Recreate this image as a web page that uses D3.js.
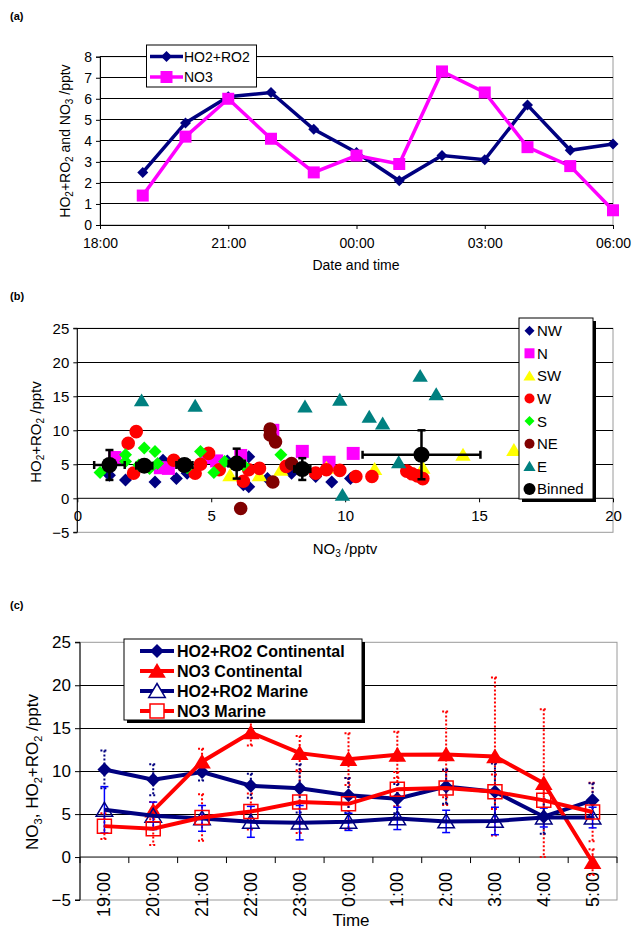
<!DOCTYPE html>
<html><head><meta charset="utf-8">
<script src="https://cdn.jsdelivr.net/npm/d3@7"></script>
<style>
html,body{margin:0;padding:0;background:#fff;}
svg{display:block;font-family:"Liberation Sans",Arial,sans-serif;}
</style></head>
<body>
<svg id="chart" width="632" height="929"></svg>
<script>
// ---------- Panel (a) data ----------
const aTimes = ["19:00","20:00","21:00","22:00","23:00","00:00","01:00","02:00","03:00","04:00","05:00","06:00"];
const aHO2RO2 = [2.5,4.85,6.1,6.3,4.55,3.45,2.1,3.3,3.1,5.7,3.55,3.85];
const aNO3 = [1.4,4.2,6.0,4.1,2.5,3.3,2.9,7.3,6.3,3.7,2.8,0.7];
const aTickHours = [18,21,24,27,30];
const aYTicks = [0,1,2,3,4,5,6,7,8];

// ---------- Panel (b) data: [NO3, HO2+RO2] ----------
const bNW = [[1.2,3.4],[1.8,2.7],[2.9,2.4],[3.2,5.6],[3.7,2.9],[4.1,3.7],[5.6,5.5],[6.1,5.6],[6.2,2.0],[6.4,1.7],[6.4,6.1],[7.1,2.9],[8.0,3.7],[8.9,3.2],[9.5,2.4],[10.2,2.9]];
const bN = [[1.4,6.0],[3.1,4.5],[3.4,4.4],[4.8,6.0],[5.2,5.5],[6.1,6.3],[7.3,10.0],[8.4,6.9],[9.4,5.3],[10.3,6.6]];
const bSW = [[5.7,3.4],[6.8,3.4],[7.6,4.2],[9.3,4.5],[11.1,4.3],[12.9,4.5],[14.4,6.4],[16.3,7.1]];
const bW = [[1.9,8.1],[2.2,9.8],[2.1,3.7],[3.6,5.6],[4.4,3.7],[4.6,5.0],[4.9,6.6],[5.3,4.2],[6.2,2.5],[6.4,4.2],[6.8,4.4],[7.8,4.7],[8.9,3.7],[9.3,4.2],[9.8,4.1],[10.4,3.2],[11.0,3.2],[12.3,4.0],[12.5,3.6],[12.7,3.3],[12.9,2.9]];
const bS = [[0.85,3.8],[1.8,6.4],[1.8,5.4],[2.3,4.9],[2.5,7.4],[2.7,4.4],[2.9,6.9],[3.0,5.1],[4.1,4.5],[4.6,6.9],[5.1,3.8],[5.5,5.4],[6.2,4.9],[7.6,6.4]];
const bNE = [[6.1,-1.5],[7.2,10.2],[7.2,9.3],[7.4,8.3],[7.3,2.4],[8.0,5.1]];
const bE = [[2.4,14.4],[4.4,13.6],[8.5,13.5],[9.8,14.5],[9.9,0.5],[10.9,12.0],[11.4,11.0],[12.0,5.3],[12.8,18.0],[13.4,15.3]];
const bBinned = [[1.2,4.9],[2.5,4.8],[4.0,4.9],[5.95,5.1],[8.4,4.3],[12.85,6.4]];
const bBinnedXErr = [0.57,0.3,0.3,0.3,0.3,2.2];
const bBinnedYErr = [2.2,0.8,0.8,2.2,1.6,3.6];
const bXTicks = [0,5,10,15,20];
const bYTicks = [-5,0,5,10,15,20,25];

// ---------- Panel (c) data ----------
const cTimes = ["19:00","20:00","21:00","22:00","23:00","0:00","1:00","2:00","3:00","4:00","5:00"];
const cHO2Cont = [10.2,9.0,9.9,8.3,8.0,7.2,6.8,8.2,7.6,4.7,6.6];
const cHO2ContErr = [2.2,1.8,1.0,1.4,2.8,2.0,1.7,2.0,3.3,2.0,2.0];
const cNO3Cont = [null,5.4,11.1,14.5,12.1,11.4,11.9,11.95,11.7,8.6,-0.6];
const cNO3ContErr = [null,1.0,1.5,1.5,2.0,3.0,2.7,5.0,9.2,8.6,1.5];
const cHO2Mar = [5.5,4.8,4.5,4.1,4.0,4.1,4.5,4.15,4.2,4.6,4.6];
const cHO2MarErr = [2.7,1.6,1.5,1.8,2.0,1.0,1.3,1.3,1.6,1.1,1.2];
const cNO3Mar = [3.6,3.3,4.6,5.3,6.4,6.2,7.9,8.05,7.6,6.6,5.25];
const cNO3MarErr = [1.5,1.9,2.7,2.1,3.6,3.0,2.0,2.0,2.0,2.0,3.4];
const cYTicks = [-5,0,5,10,15,20,25];

const svg = d3.select("#chart");
svg.append("rect").attr("width",632).attr("height",929).attr("fill","#fff");
const FONT = '"Liberation Sans",Arial,sans-serif';

function diamond(r){return `M0,${-r}L${r},0L0,${r}L${-r},0Z`;}
function square(r){return `M${-r},${-r}H${r}V${r}H${-r}Z`;}
function triangle(r){return `M0,${-r}L${r*1.1},${r*0.85}L${-r*1.1},${r*0.85}Z`;}
function circle(r){return d3.symbol(d3.symbolCircle, Math.PI*r*r)();}

function frame(g, x0, x1, y0, y1){
  g.append("rect").attr("x",x0).attr("y",y0).attr("width",x1-x0).attr("height",y1-y0)
   .attr("fill","none").attr("stroke","#9a9a9a").attr("stroke-width",1);
}
function gridY(g, y, vals, x0, x1){
  g.selectAll(null).data(vals).enter().append("line")
   .attr("x1",x0).attr("x2",x1).attr("y1",d=>y(d)).attr("y2",d=>y(d))
   .attr("stroke","#000").attr("stroke-width",1).attr("shape-rendering","crispEdges");
}
function panelLabel(t, y){
  svg.append("text").attr("x",10).attr("y",y).attr("font-size",11).attr("font-weight","bold").text(t);
}

// ================= Panel (a) =================
{
  const g = svg.append("g");
  const x = d3.scaleLinear().domain([18,30]).range([100,613]);
  const y = d3.scaleLinear().domain([0,8]).range([225,56.7]);
  const hrs = aTimes.map(t=>{let h=+t.split(":")[0]; return h<18?h+24:h;});
  frame(g,100,613,56.7,225);
  gridY(g,y,aYTicks.filter(v=>v>0),100,613);
  const ya = g.append("g").attr("transform","translate(100,0)")
    .call(d3.axisLeft(y).tickValues(aYTicks).tickSize(4).tickPadding(4).tickFormat(d3.format("d")));
  const xa = g.append("g").attr("transform",`translate(0,${y(0)})`)
    .call(d3.axisBottom(x).tickValues(aTickHours).tickSize(4).tickPadding(9)
      .tickFormat(h=>String(h%24).padStart(2,"0")+":00"));
  [ya,xa].forEach(a=>{a.selectAll("text").attr("font-size",14).attr("font-family",FONT).attr("fill","#000");
    a.selectAll("line,path").attr("stroke","#000");});
  const line = d3.line().x((d,i)=>x(hrs[i])).y(d=>y(d));
  g.append("path").datum(aHO2RO2).attr("d",line).attr("fill","none").attr("stroke","#000080").attr("stroke-width",3.5);
  g.append("path").datum(aNO3).attr("d",line).attr("fill","none").attr("stroke","#ff00ff").attr("stroke-width",3.5);
  g.selectAll(null).data(aHO2RO2).enter().append("path").attr("d",diamond(5.5))
    .attr("transform",(d,i)=>`translate(${x(hrs[i])},${y(d)})`).attr("fill","#000080");
  g.selectAll(null).data(aNO3).enter().append("path").attr("d",square(6))
    .attr("transform",(d,i)=>`translate(${x(hrs[i])},${y(d)})`).attr("fill","#ff00ff");
  // legend
  const lg = g.append("g");
  lg.append("rect").attr("x",146.5).attr("y",45).attr("width",110).attr("height",42)
    .attr("fill","#fff").attr("stroke","#000").attr("stroke-width",1);
  [["HO2+RO2","#000080",diamond(5.5)],["NO3","#ff00ff",square(6)]].forEach((e,i)=>{
    const yy = 56.5+i*20.5;
    lg.append("line").attr("x1",150).attr("x2",183).attr("y1",yy).attr("y2",yy).attr("stroke",e[1]).attr("stroke-width",3.5);
    lg.append("path").attr("d",e[2]).attr("transform",`translate(166.5,${yy})`).attr("fill",e[1]);
    lg.append("text").attr("x",184).attr("y",yy+5).attr("font-size",14).text(e[0]);
  });
  // y title
  const yt = g.append("text").attr("transform","translate(70,141) rotate(-90)").attr("text-anchor","middle").attr("font-size",14);
  yt.append("tspan").text("HO");
  yt.append("tspan").attr("font-size",10).attr("dy",3).text("2");
  yt.append("tspan").attr("dy",-3).text("+RO");
  yt.append("tspan").attr("font-size",10).attr("dy",3).text("2");
  yt.append("tspan").attr("dy",-3).text(" and NO");
  yt.append("tspan").attr("font-size",10).attr("dy",3).text("3");
  yt.append("tspan").attr("dy",-3).text(" /pptv");
  g.append("text").attr("x",356).attr("y",270).attr("text-anchor","middle").attr("font-size",14).text("Date and time");
  panelLabel("(a)",20);
}

// ================= Panel (b) =================
{
  const g = svg.append("g");
  const x = d3.scaleLinear().domain([0,20]).range([77.3,613]);
  const y = d3.scaleLinear().domain([-5,25]).range([532.3,328.3]);
  frame(g,77.3,613,328.3,532.3);
  gridY(g,y,[5,10,15,20,25],77.3,613);
  const ya = g.append("g").attr("transform","translate(77.3,0)")
    .call(d3.axisLeft(y).tickValues(bYTicks).tickSize(4).tickPadding(4));
  const xa = g.append("g").attr("transform",`translate(0,${y(0)})`)
    .call(d3.axisBottom(x).tickValues(bXTicks).tickSize(4).tickPadding(8));
  [ya,xa].forEach(a=>{a.selectAll("text").attr("font-size",15).attr("font-family",FONT).attr("fill","#000");
    a.selectAll("line,path").attr("stroke","#000");});
  ya.select(".domain").attr("d",`M-4,${y(25)}H0V${y(-5)}H-4`);
  xa.select(".domain").attr("d",`M${x(0)},0H${x(20)}`);
  const series = [
    {name:"NW",data:bNW,col:"#000080",shape:diamond(6.5)},
    {name:"N",data:bN,col:"#ff00ff",shape:square(6.5)},
    {name:"SW",data:bSW,col:"#ffff00",shape:triangle(7)},
    {name:"W",data:bW,col:"#ff0000",shape:circle(6.8)},
    {name:"S",data:bS,col:"#00ff00",shape:diamond(6.5)},
    {name:"NE",data:bNE,col:"#800000",shape:circle(6.8)},
    {name:"E",data:bE,col:"#008080",shape:triangle(7)}
  ];
  series.forEach(s=>{
    g.selectAll(null).data(s.data).enter().append("path").attr("d",s.shape)
      .attr("transform",d=>`translate(${x(d[0])},${y(d[1])})`).attr("fill",s.col);
  });
  // binned with error bars
  const eb = g.append("g").attr("stroke","#000").attr("stroke-width",2.5);
  bBinned.forEach((d,i)=>{
    const cx=x(d[0]), cy=y(d[1]);
    const xl=x(d[0]-bBinnedXErr[i]), xr=x(d[0]+bBinnedXErr[i]);
    const yt=y(d[1]+bBinnedYErr[i]), yb=y(d[1]-bBinnedYErr[i]);
    eb.append("line").attr("x1",xl).attr("x2",xr).attr("y1",cy).attr("y2",cy);
    eb.append("line").attr("x1",xl).attr("x2",xl).attr("y1",cy-4).attr("y2",cy+4);
    eb.append("line").attr("x1",xr).attr("x2",xr).attr("y1",cy-4).attr("y2",cy+4);
    eb.append("line").attr("x1",cx).attr("x2",cx).attr("y1",yt).attr("y2",yb);
    eb.append("line").attr("x1",cx-4).attr("x2",cx+4).attr("y1",yt).attr("y2",yt);
    eb.append("line").attr("x1",cx-4).attr("x2",cx+4).attr("y1",yb).attr("y2",yb);
  });
  g.selectAll(null).data(bBinned).enter().append("path").attr("d",circle(8))
    .attr("transform",d=>`translate(${x(d[0])},${y(d[1])})`).attr("fill","#000");
  // legend
  const lg = g.append("g");
  lg.append("rect").attr("x",522).attr("y",321).attr("width",74).attr("height",181).attr("fill","#000");
  lg.append("rect").attr("x",519).attr("y",318).attr("width",74).attr("height",181)
    .attr("fill","#fff").attr("stroke","#000").attr("stroke-width",1);
  const legItems = series.map(s=>({name:s.name,col:s.col,shape:s.shape}))
    .concat([{name:"Binned",col:"#000",shape:circle(6)}]);
  const legShapes = {"NW":diamond(5),"N":square(5),"SW":triangle(5.5),"W":circle(5),"S":diamond(5),"NE":circle(5),"E":triangle(5.5),"Binned":circle(6)};
  legItems.forEach((e,i)=>{
    const yy = 330.7+i*22.6;
    lg.append("path").attr("d",legShapes[e.name]).attr("transform",`translate(529.5,${yy})`).attr("fill",e.col);
    lg.append("text").attr("x",537).attr("y",yy+5.5).attr("font-size",15).text(e.name);
  });
  const yt = g.append("text").attr("transform","translate(41,432) rotate(-90)").attr("text-anchor","middle").attr("font-size",15);
  yt.append("tspan").text("HO");
  yt.append("tspan").attr("font-size",10).attr("dy",3).text("2");
  yt.append("tspan").attr("dy",-3).text("+RO");
  yt.append("tspan").attr("font-size",10).attr("dy",3).text("2");
  yt.append("tspan").attr("dy",-3).text(" /pptv");
  const xt = g.append("text").attr("x",345).attr("y",554).attr("text-anchor","middle").attr("font-size",15);
  xt.append("tspan").text("NO");
  xt.append("tspan").attr("font-size",10).attr("dy",3).text("3");
  xt.append("tspan").attr("dy",-3).text(" /pptv");
  panelLabel("(b)",300);
}

// ================= Panel (c) =================
{
  const g = svg.append("g");
  const x = d3.scaleBand().domain(cTimes).range([80,617]);
  const cx = d=>x(d)+x.bandwidth()/2;
  const y = d3.scaleLinear().domain([-5,25]).range([900,642.3]);
  frame(g,80,617,642.3,900);
  gridY(g,y,[5,10,15,20],80,617);
  const ya = g.append("g").attr("transform","translate(80,0)")
    .call(d3.axisLeft(y).tickValues(cYTicks).tickSize(5).tickPadding(4));
  ya.selectAll("text").attr("font-size",17).attr("font-family",FONT).attr("fill","#000");
  ya.selectAll("line,path").attr("stroke","#000");
  ya.select(".domain").attr("d",`M-5,${y(25)}H0V${y(-5)}H-5`);
  // x axis at zero with boundary ticks
  g.append("line").attr("x1",80).attr("x2",617).attr("y1",y(0)).attr("y2",y(0)).attr("stroke","#000").attr("stroke-width",1);
  const bounds = cTimes.map(t=>x(t)).concat([x.range()[1]]);
  g.selectAll(null).data(bounds).enter().append("line")
    .attr("x1",d=>d).attr("x2",d=>d).attr("y1",y(0)).attr("y2",y(0)+6).attr("stroke","#000");
  g.selectAll(null).data(cTimes).enter().append("text")
    .attr("transform",d=>`translate(${cx(d)+6},872) rotate(-90)`).attr("text-anchor","end")
    .attr("font-size",18).text(d=>d);

  function errBars(vals, errs, col, dashed, w){
    const eg = g.append("g").attr("stroke",col).attr("stroke-width",w);
    if(dashed) eg.attr("stroke-dasharray","2,2");
    vals.forEach((v,i)=>{
      if(v==null||errs[i]==null) return;
      const xx=cx(cTimes[i]);
      const t=y(Math.min(25,v+errs[i])), b=y(Math.max(-5,v-errs[i]));
      eg.append("line").attr("x1",xx).attr("x2",xx).attr("y1",t).attr("y2",b);
      eg.append("line").attr("x1",xx-4).attr("x2",xx+4).attr("y1",t).attr("y2",t);
      eg.append("line").attr("x1",xx-4).attr("x2",xx+4).attr("y1",b).attr("y2",b);
    });
  }
  errBars(cNO3Cont,cNO3ContErr,"#ff0000",true,2);
  errBars(cNO3Mar,cNO3MarErr,"#ff0000",true,2);
  errBars(cHO2Cont,cHO2ContErr,"#000080",true,2);
  errBars(cHO2Mar,cHO2MarErr,"#0000ff",false,1.5);

  const line = d3.line().defined(d=>d!=null).x((d,i)=>cx(cTimes[i])).y(d=>y(d));
  const cSeries = [
    {name:"HO2+RO2 Continental",vals:cHO2Cont,col:"#000080",shape:diamond(7),fill:"#000080"},
    {name:"NO3 Continental",vals:cNO3Cont,col:"#ff0000",shape:triangle(8),fill:"#ff0000"},
    {name:"HO2+RO2 Marine",vals:cHO2Mar,col:"#000080",shape:triangle(7.5),fill:"none"},
    {name:"NO3 Marine",vals:cNO3Mar,col:"#ff0000",shape:square(7),fill:"none"}
  ];
  cSeries.forEach(s=>{
    g.append("path").datum(s.vals).attr("d",line).attr("fill","none").attr("stroke",s.col).attr("stroke-width",4);
    g.selectAll(null).data(s.vals.map((v,i)=>[i,v]).filter(d=>d[1]!=null)).enter().append("path")
      .attr("d",s.shape).attr("transform",d=>`translate(${cx(cTimes[d[0]])},${y(d[1])})`)
      .attr("fill",s.fill).attr("stroke",s.fill==="none"?s.col:"none").attr("stroke-width",1.5);
  });
  // legend
  const lg = g.append("g");
  lg.append("rect").attr("x",127).attr("y",642).attr("width",238).attr("height",81).attr("fill","#000");
  lg.append("rect").attr("x",124).attr("y",639).attr("width",238).attr("height",81)
    .attr("fill","#fff").attr("stroke","#000").attr("stroke-width",1);
  cSeries.forEach((s,i)=>{
    const yy = 651+i*20;
    lg.append("line").attr("x1",140).attr("x2",174).attr("y1",yy).attr("y2",yy).attr("stroke",s.col).attr("stroke-width",4);
    lg.append("path").attr("d",s.shape).attr("transform",`translate(157,${yy})`)
      .attr("fill",s.fill==="none"?"#fff":s.fill).attr("stroke",s.fill==="none"?s.col:"none").attr("stroke-width",1.5);
    lg.append("text").attr("x",177).attr("y",yy+6).attr("font-size",16).attr("font-weight","bold").text(s.name);
  });
  const yt = g.append("text").attr("transform","translate(38,772) rotate(-90)").attr("text-anchor","middle").attr("font-size",17);
  yt.append("tspan").text("NO");
  yt.append("tspan").attr("font-size",11).attr("dy",4).text("3");
  yt.append("tspan").attr("dy",-4).text(", HO");
  yt.append("tspan").attr("font-size",11).attr("dy",4).text("2");
  yt.append("tspan").attr("dy",-4).text("+RO");
  yt.append("tspan").attr("font-size",11).attr("dy",4).text("2");
  yt.append("tspan").attr("dy",-4).text(" /pptv");
  g.append("text").attr("x",351).attr("y",926).attr("text-anchor","middle").attr("font-size",17).text("Time");
  panelLabel("(c)",609);
}
</script>
</body></html>
